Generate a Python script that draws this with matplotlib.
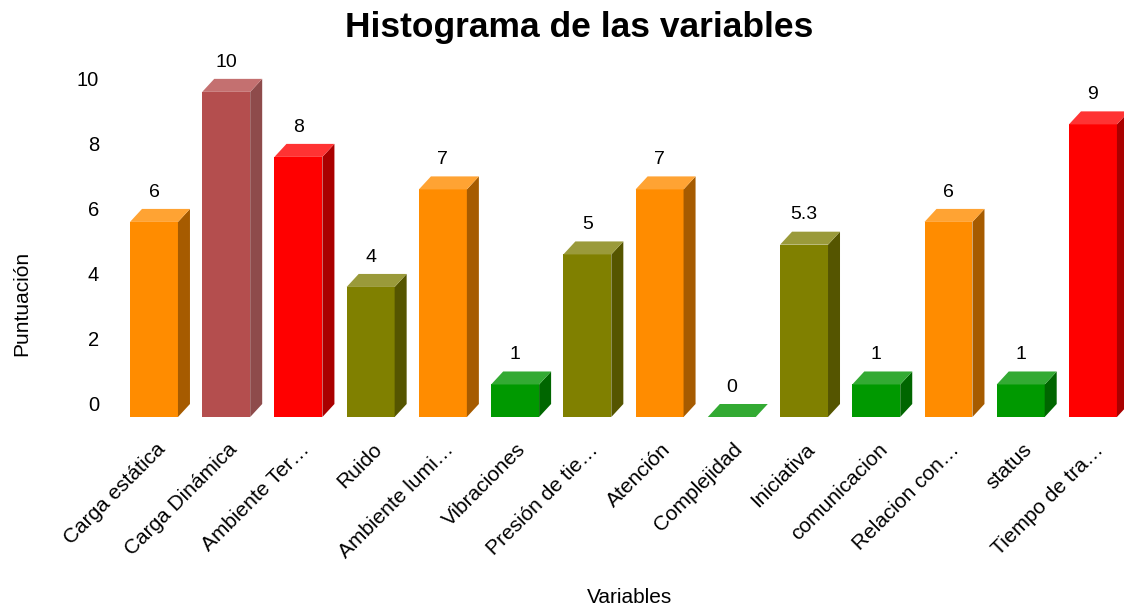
import matplotlib
matplotlib.use("Agg")
import matplotlib.pyplot as plt
from matplotlib.patches import Polygon
from matplotlib.transforms import ScaledTranslation

plt.rcParams['font.family'] = ['Liberation Sans', 'DejaVu Sans']

categories = ["Carga estática", "Carga Dinámica", "Ambiente Ter…", "Ruido",
              "Ambiente lumi…", "Vibraciones", "Presión de tie…", "Atención",
              "Complejidad", "Iniciativa", "comunicacion", "Relacion con…",
              "status", "Tiempo de tra…"]
values = [6, 10, 8, 4, 7, 1, 5, 7, 0, 5.3, 1, 6, 1, 9]
value_labels = ["6", "10", "8", "4", "7", "1", "5", "7", "0", "5.3", "1", "6", "1", "9"]
levels = ["orange", "rose", "red", "olive", "orange", "green", "olive", "orange",
          "green", "olive", "green", "orange", "green", "red"]
y_ticks = [0, 2, 4, 6, 8, 10]

# front / top / side shades for each level
palette = {
    "orange": ("#FF8C00", "#FFA333", "#A65B00"),
    "rose":   ("#B44E4E", "#C47070", "#8E4B4B"),
    "red":    ("#FF0000", "#FF3333", "#AA0000"),
    "olive":  ("#808000", "#9A9A3A", "#555500"),
    "green":  ("#009900", "#33AA33", "#006600"),
}

W, H = 1126, 612
fig = plt.figure(figsize=(W / 100, H / 100), dpi=100)
ax_left, ax_right, ax_top, ax_bottom = 110, 1124, 60, 430
ax = fig.add_axes([ax_left / W, 1 - ax_bottom / H,
                   (ax_right - ax_left) / W, (ax_bottom - ax_top) / H])

ax.set_xlim(-0.609, 13.43)
ax.set_ylim(-0.40, 10.98)
for s in ax.spines.values():
    s.set_visible(False)

# pixel depth of the extruded boxes converted to data units
p0 = ax.transData.transform((0, 0))
p1 = ax.transData.transform((1, 1))
px_x, px_y = p1 - p0
depth_x = 12.0 / px_x
depth_y = 13.0 / px_y

bar_w = 0.664
xs = list(range(len(values)))
for x, v, lvl in zip(xs, values, levels):
    front, top, side = palette[lvl]
    x0, x1 = x - bar_w / 2, x + bar_w / 2
    if v > 0:
        ax.bar(x, v, width=bar_w, color=front, linewidth=0, zorder=2)
        ax.add_patch(Polygon([(x1, 0), (x1 + depth_x, depth_y),
                              (x1 + depth_x, v + depth_y), (x1, v)],
                             closed=True, facecolor=side, linewidth=0, zorder=2))
    ax.add_patch(Polygon([(x0, v), (x1, v), (x1 + depth_x, v + depth_y),
                          (x0 + depth_x, v + depth_y)],
                         closed=True, facecolor=top, linewidth=0, zorder=2))

for x, v, lab in zip(xs, values, value_labels):
    ax.annotate(lab, (x, v + depth_y), xytext=(0, 6), textcoords="offset points",
                ha="center", va="bottom", fontsize=14, color="black")

ax.set_yticks([t + depth_y for t in y_ticks])
ax.set_yticklabels([str(t) for t in y_ticks], fontsize=14.5)
ax.tick_params(axis="y", length=0, pad=8)

ax.set_xticks(xs)
ax.set_xticklabels(categories, rotation=45, ha="right", va="center",
                   rotation_mode="anchor", fontsize=15)
ax.tick_params(axis="x", length=0, pad=12)
shift = ScaledTranslation(8 / 100, 0, fig.dpi_scale_trans)
for lbl in ax.get_xticklabels():
    lbl.set_transform(lbl.get_transform() + shift)

ax.set_ylabel("Puntuación", fontsize=15)
ax.yaxis.set_label_coords((31 - ax_left) / (ax_right - ax_left),
                          (ax_bottom - 303) / (ax_bottom - ax_top))
ax.set_xlabel("Variables", fontsize=15)
ax.xaxis.set_label_coords((630 - ax_left) / (ax_right - ax_left),
                          (ax_bottom - 588) / (ax_bottom - ax_top))

fig.text(579 / W, 1 - 27 / H, "Histograma de las variables", ha="center",
         va="center", fontsize=25.5, fontweight="bold")

fig.savefig("out.png", dpi=100)
